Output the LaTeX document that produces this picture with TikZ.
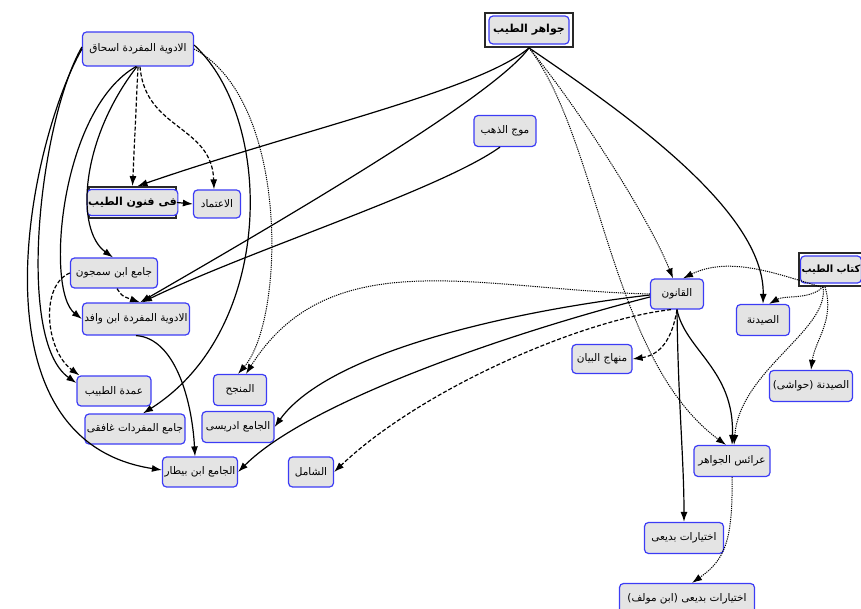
\documentclass[tikz,border=0pt]{standalone}
\usepackage{fontspec}
\usetikzlibrary{arrows.meta}
\TeXXeTstate=1
\newfontfamily\arab[Script=Arabic]{DejaVu Sans}
\newcommand\rtl[1]{\beginR #1\endR}
\definecolor{bord}{RGB}{60,60,245}
\definecolor{fil}{RGB}{228,228,228}
\definecolor{frm}{RGB}{40,40,40}
\tikzset{
 box/.style={draw=bord, fill=fil, rounded corners=4pt, line width=1.2pt, font=\arab\fontsize{10.5}{12}\selectfont, inner xsep=1pt, inner ysep=1pt, text=black},
 bbox/.style={box, font=\arab\bfseries\fontsize{11}{13}\selectfont},
 framebox/.style={draw=frm, line width=1.8pt, inner sep=0pt},
 ed/.style={-{Latex[length=10pt,width=7pt]}, line width=1.2pt, black},
 sol/.style={ed},
 dsh/.style={ed, dash pattern=on 4pt off 2pt},
 dot/.style={ed, dash pattern=on 1.2pt off 1pt, line width=1pt},
}
\begin{document}
\begin{tikzpicture}[x=1pt,y=-1pt]
\useasboundingbox (0,0) rectangle (861,609);
% nodes
\node[box, minimum width=111pt, minimum height=34pt] (A) at (138,49) {\rtl{الادوية المفردة اسحاق}};
\node[framebox, minimum width=88pt, minimum height=34pt] (J) at (529,30) {};
\node[bbox, minimum width=80pt, minimum height=28pt] (Ji) at (529,30) {\rtl{جواهر الطيب}};
\node[framebox, minimum width=87pt, minimum height=31pt] (F) at (132.5,202.5) {};
\node[bbox, minimum width=81pt, minimum height=26pt] (Fi) at (132.5,202.5) {\rtl{فى فنون الطيب}};
\node[box, minimum width=47pt, minimum height=28pt] (I) at (217,204) {\rtl{الاعتماد}};
\node[box, minimum width=62pt, minimum height=31pt] (M) at (505,131) {\rtl{موج الذهب}};
\node[box, minimum width=87pt, minimum height=30pt] (S) at (114,273) {\rtl{جامع ابن سمجون}};
\node[box, minimum width=107pt, minimum height=32pt] (W) at (136,319) {\rtl{الادوية المفردة ابن وافد}};
\node[box, minimum width=74pt, minimum height=30pt] (U) at (114,391) {\rtl{عمدة الطبيب}};
\node[box, minimum width=53pt, minimum height=31pt] (N) at (240,390) {\rtl{المنجح}};
\node[box, minimum width=100pt, minimum height=30pt] (G) at (135,429) {\rtl{جامع المفردات غافقى}};
\node[box, minimum width=72pt, minimum height=31pt] (D) at (238,427) {\rtl{الجامع ادريسى}};
\node[box, minimum width=75pt, minimum height=30pt] (B) at (200,472) {\rtl{الجامع ابن بيطار}};
\node[box, minimum width=45pt, minimum height=30pt] (Sh) at (311,472) {\rtl{الشامل}};
\node[box, minimum width=53pt, minimum height=30pt] (Q) at (677,294) {\rtl{القانون}};
\node[framebox, minimum width=64pt, minimum height=33pt] (K) at (831,269.5) {};
\node[bbox, font=\arab\bfseries\fontsize{10}{12}\selectfont, minimum width=58pt, minimum height=27pt] (Ki) at (831,269.5) {\rtl{كتاب الطيب}};
\node[box, minimum width=53pt, minimum height=31pt] (Sd) at (763,320) {\rtl{الصيدنة}};
\node[box, minimum width=60pt, minimum height=29pt] (Mh) at (602,359) {\rtl{منهاج البيان}};
\node[box, minimum width=83pt, minimum height=31pt] (H) at (811,386) {\rtl{الصيدنة (حواشى)}};
\node[box, minimum width=76pt, minimum height=31pt] (R) at (732,461) {\rtl{عرائس الجواهر}};
\node[box, minimum width=79pt, minimum height=31pt] (X1) at (684,538) {\rtl{اختيارات بديعى}};
\node[box, minimum width=135pt, minimum height=31pt] (X2) at (687,599) {\rtl{اختيارات بديعى (ابن مولف)}};
% edges from A
\draw[dsh] (A.south) -- (F.north);
\draw[dsh] ([xshift=2pt]A.south) .. controls (145,130) and (212,125) .. ([xshift=-3pt]I.north);
\draw[sol] ([xshift=-1pt]A.south) .. controls (80,140) and (75,230) .. ([xshift=-1pt]S.north);
\draw[sol] ([xshift=-2pt]A.south) .. controls (60,110) and (45,290) .. (W.west);
\draw[sol] ([yshift=2pt]A.west) .. controls (40,120) and (15,340) .. ([yshift=8pt]U.west);
\draw[sol] (A.west) .. controls (30,140) and (-35,440) .. ([yshift=2pt]B.west);
\draw[sol] ([yshift=4pt]A.east) .. controls (275,120) and (275,330) .. ([xshift=8pt]G.north);
\draw[dot] (A.east) .. controls (290,100) and (285,320) .. ([xshift=-2pt]N.north);
\draw[dsh] (S.west) .. controls (40,285) and (45,350) .. ([xshift=3pt]U.north west);
\draw[dsh] ([xshift=3pt]S.south) .. controls (122,296) .. ([xshift=4pt]W.north);
\draw[sol] (W.south) .. controls (175,338) and (192,400) .. ([xshift=-5pt]B.north);
\draw[sol] (F.east) -- (I.west);
% edges from J and M
\draw[sol] (J.south) .. controls (480,90) and (300,130) .. ([xshift=5pt]F.north);
\draw[sol] (J.south) .. controls (495,95) and (300,210) .. ([xshift=4pt]W.north);
\draw[sol] ([xshift=-5pt]M.south) .. controls (440,190) and (250,250) .. ([xshift=6pt]W.north);
\draw[dot] (J.south) .. controls (580,110) and (650,220) .. ([xshift=-4pt]Q.north);
\draw[dot] (J.south) .. controls (600,140) and (610,360) .. ([xshift=-6pt]R.north);
\draw[sol] (J.south) .. controls (620,110) and (765,210) .. (Sd.north);
% edges from K
\draw[dot] ([xshift=-10pt]K.south) .. controls (780,275) and (730,255) .. ([xshift=6pt]Q.north);
\draw[dot] ([xshift=-8pt]K.south) .. controls (810,300) and (785,295) .. ([xshift=6pt]Sd.north);
\draw[dot] ([xshift=-6pt]K.south) .. controls (835,320) and (815,340) .. (H.north);
\draw[dot] ([xshift=-8pt]K.south) .. controls (830,330) and (740,370) .. ([xshift=2pt]R.north);
% edges from Q
\draw[dot] (Q.west) .. controls (480,290) and (330,240) .. ([xshift=6pt]N.north);
\draw[sol] ([yshift=-1pt]Q.west) .. controls (520,310) and (330,350) .. (D.east);
\draw[sol] ([yshift=-3pt]Q.west) .. controls (520,330) and (310,400) .. (B.east);
\draw[dsh] ([xshift=-6pt]Q.south) .. controls (580,320) and (420,390) .. (Sh.east);
\draw[dsh] (Q.south) .. controls (672,340) and (660,355) .. (Mh.east);
\draw[sol] (Q.south) .. controls (685,350) and (735,370) .. (R.north);
\draw[sol] (Q.south) .. controls (678,400) and (684,460) .. (X1.north);
\draw[dot] (R.south) .. controls (733,540) and (725,560) .. ([xshift=5pt]X2.north);
\end{tikzpicture}
\end{document}
